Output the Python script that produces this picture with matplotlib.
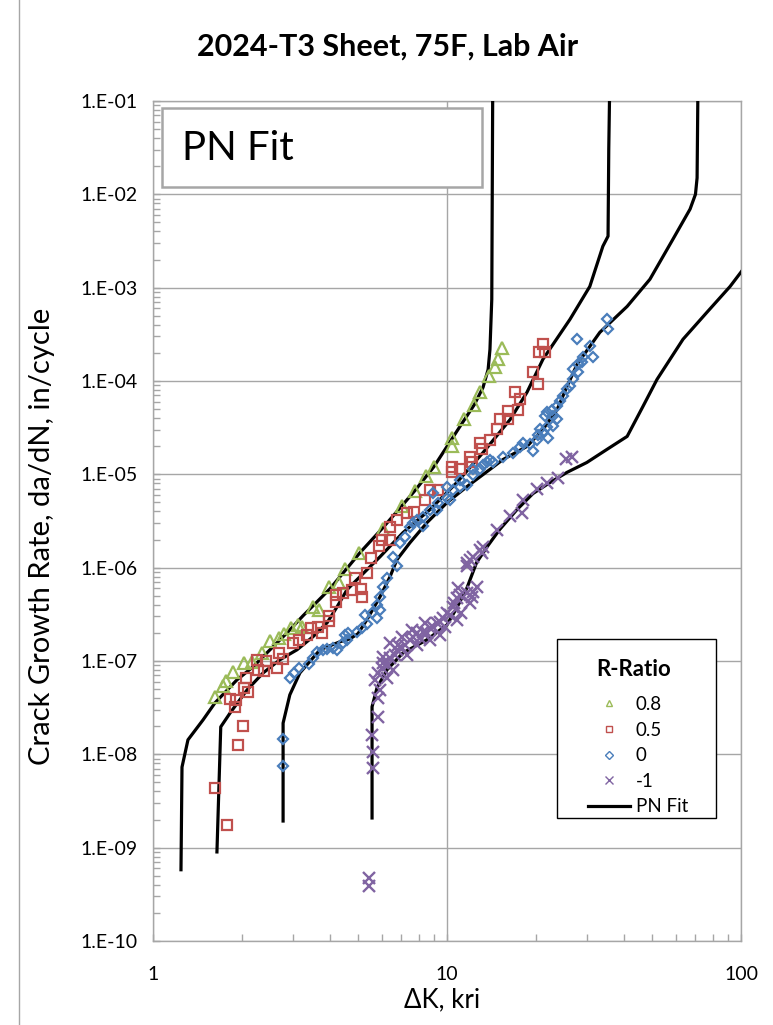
import numpy as np
import matplotlib
matplotlib.use('Agg')
import matplotlib.pyplot as plt
from matplotlib.lines import Line2D
from matplotlib.patches import Rectangle
from matplotlib.ticker import FixedLocator, FuncFormatter, LogLocator, NullFormatter

plt.rcParams['font.family'] = ['Lato', 'DejaVu Sans']

# region - data (dK in ksi*sqrt(in), da/dN in in/cycle)
r_labels = ['0.8', '0.5', '0', '-1', 'PN Fit']
y_ticks = [1e-10, 1e-9, 1e-8, 1e-7, 1e-6, 1e-5, 1e-4, 1e-3, 1e-2, 1e-1]
x_ticks = [1, 10, 100]

# PN fit curves
fit_08_dk = [1.245, 1.255, 1.315, 1.48, 1.625, 1.93, 2.19, 2.50, 2.86, 3.24, 3.56, 4.00, 4.50, 5.06, 6.06,
             7.03, 7.78, 9.03, 11.07, 12.4, 13.26, 13.8, 14.0, 14.2, 14.3]
fit_08_dadn = [5.8e-10, 7.3e-9, 1.43e-8, 2.34e-8, 3.56e-8, 6.28e-8, 8.67e-8, 1.32e-7, 2.01e-7, 3.06e-7, 4.11e-7,
               5.95e-7, 9.29e-7, 1.45e-6, 2.69e-6, 4.62e-6, 6.70e-6, 1.21e-5, 3.26e-5, 5.61e-5, 8.54e-5, 1.33e-4,
               2.18e-4, 7.5e-4, 1.0e-1]

fit_05_dk = [1.65, 1.70, 1.83, 2.09, 2.37, 2.70, 3.09, 3.50, 3.91, 4.23, 4.57, 4.94, 5.92, 7.08, 8.75, 10.8,
             13.26, 16.4, 18.7, 21.2, 26.2, 30.6, 33.9, 35.3, 35.5, 35.7]
fit_05_dadn = [9.0e-10, 1.97e-8, 2.78e-8, 4.91e-8, 7.46e-8, 1.03e-7, 1.32e-7, 1.82e-7, 2.57e-7, 3.82e-7, 5.81e-7,
               7.43e-7, 1.31e-6, 2.37e-6, 4.19e-6, 8.17e-6, 1.71e-5, 3.87e-5, 7.55e-5, 1.71e-4, 4.58e-4, 1.03e-3,
               2.78e-3, 3.56e-3, 3.06e-2, 1.0e-1]

fit_0_dk = [2.77, 2.77, 2.92, 3.16, 3.70, 4.33, 4.68, 4.98, 5.34, 5.92, 6.40, 6.76, 7.48, 8.55, 10.0, 11.7,
            14.0, 15.5, 18.7, 21.2, 23.7, 25.6, 27.7, 33.1, 41.0, 49.0, 58.7, 67.1, 70.0, 70.9, 71.3]
fit_0_dadn = [1.93e-9, 2.16e-8, 4.34e-8, 7.46e-8, 1.32e-7, 1.61e-7, 1.73e-7, 1.96e-7, 2.77e-7, 4.89e-7, 8.0e-7,
              1.22e-6, 1.85e-6, 3.04e-6, 4.98e-6, 7.4e-6, 1.13e-5, 1.44e-5, 1.99e-5, 3.03e-5, 4.95e-5, 8.75e-5,
              1.51e-4, 3.32e-4, 6.3e-4, 1.23e-3, 3.31e-3, 6.94e-3, 1.0e-2, 1.5e-2, 1.0e-1]

fit_m1_dk = [5.56, 5.56, 5.78, 6.25, 7.08, 8.55, 10.0, 10.8, 11.7, 12.6, 13.7, 15.1, 17.3, 19.6, 22.4, 25.6,
             29.9, 35.0, 41.0, 46.4, 51.8, 63.5, 76.6, 91.8, 103]
fit_m1_dadn = [2.08e-9, 3.23e-8, 5.16e-8, 8.05e-8, 1.22e-7, 1.69e-7, 2.44e-7, 3.72e-7, 6.10e-7, 1.13e-6, 1.68e-6,
               2.56e-6, 4.19e-6, 6.22e-6, 8.17e-6, 1.05e-5, 1.34e-5, 1.85e-5, 2.55e-5, 5.34e-5, 1.04e-4, 2.80e-4,
               5.45e-4, 1.03e-3, 1.66e-3]

# test data, R = 0.8
r08_dk = [1.625, 1.73, 1.77, 1.87, 2.04, 2.17, 2.35, 2.50, 2.68, 2.79, 2.95, 3.11, 3.21, 3.50, 3.67, 3.97, 4.29,
          4.50, 5.02, 6.06, 7.03, 7.78, 8.48, 9.03, 10.4, 10.4, 11.4, 12.4, 12.9, 13.9, 14.6, 14.9, 15.4]
r08_dadn = [4.13e-8, 5.42e-8, 6.13e-8, 7.66e-8, 9.56e-8, 9.8e-8, 1.22e-7, 1.65e-7, 1.78e-7, 1.96e-7, 2.27e-7,
            2.44e-7, 2.33e-7, 3.82e-7, 3.54e-7, 6.25e-7, 6.90e-7, 9.76e-7, 1.45e-6, 2.62e-6, 4.62e-6, 6.70e-6,
            9.7e-6, 1.21e-5, 2.48e-5, 1.99e-5, 3.87e-5, 5.47e-5, 7.55e-5, 1.12e-4, 1.43e-4, 1.71e-4, 2.24e-4]

# R = 0.5
r05_dk = [1.625, 1.785, 1.95, 2.02, 1.83, 1.90, 1.92, 2.04, 2.10, 2.07, 2.28, 2.39, 2.64, 2.26, 2.42, 2.77,
          2.68, 2.99, 3.14, 3.34, 3.45, 3.76, 3.64, 3.97, 3.97, 4.19, 4.19, 4.43, 4.75, 4.86, 5.14, 5.10, 5.34,
          5.51, 5.87, 6.01, 6.40, 6.40, 6.76, 7.31, 7.72, 8.42, 8.75, 9.32, 10.4, 10.4, 11.1, 12.0, 12.2, 12.9,
          13.2, 14.0, 14.8, 15.1, 16.1, 16.1, 17.4, 17.7, 17.0, 19.6, 20.4, 20.6, 21.2, 21.5]
r05_dadn = [4.36e-9, 1.75e-9, 1.26e-8, 2.02e-8, 3.93e-8, 3.23e-8, 3.83e-8, 5.16e-8, 4.67e-8, 6.60e-8, 8.05e-8,
            7.85e-8, 8.45e-8, 1.03e-7, 1.0e-7, 1.06e-7, 1.22e-7, 1.57e-7, 1.69e-7, 1.91e-7, 2.27e-7, 2.01e-7,
            2.33e-7, 2.70e-7, 3.06e-7, 4.31e-7, 5.13e-7, 5.39e-7, 5.81e-7, 7.81e-7, 4.89e-7, 5.95e-7, 8.84e-7,
            1.28e-6, 1.72e-6, 2.0e-6, 2.0e-6, 2.75e-6, 3.27e-6, 3.89e-6, 3.99e-6, 5.37e-6, 6.87e-6, 6.87e-6,
            1.07e-5, 1.21e-5, 1.13e-5, 1.55e-5, 1.37e-5, 2.19e-5, 1.85e-5, 2.36e-5, 3.03e-5, 3.87e-5, 3.87e-5,
            4.72e-5, 4.95e-5, 6.35e-5, 7.55e-5, 1.24e-4, 9.2e-5, 2.03e-4, 2.47e-4, 2.03e-4]

# R = 0
r0_dk = [2.77, 2.77, 2.92, 3.02, 3.14, 3.39, 3.50, 3.61, 3.79, 3.91, 4.10, 4.23, 4.43, 4.57, 4.50, 4.60, 4.94,
         5.14, 5.34, 5.26, 5.56, 5.78, 5.92, 5.78, 5.92, 6.06, 6.25, 6.55, 6.76, 6.92, 7.20, 7.48, 7.66, 7.91,
         8.28, 8.28, 8.75, 9.25, 9.32, 10.0, 10.2, 10.5, 11.1, 11.1, 11.7, 12.3, 12.9, 13.7, 14.0, 8.96, 10.0,
         12.3, 13.26, 14.3, 15.5, 16.8, 17.7, 18.1, 19.2, 19.6, 20.2, 20.4, 21.2, 21.9, 20.7, 22.1, 22.9, 23.7,
         22.9, 21.5, 21.9, 22.8, 23.7, 24.2, 24.8, 25.6, 26.2, 26.8, 26.8, 27.9, 27.9, 28.8, 29.0, 31.4, 30.6,
         27.7, 35.0, 35.3]
r0_dadn = [1.46e-8, 7.51e-9, 6.6e-8, 7.46e-8, 8.45e-8, 9.33e-8, 1.08e-7, 1.25e-7, 1.32e-7, 1.35e-7, 1.39e-7,
           1.32e-7, 1.57e-7, 1.69e-7, 1.91e-7, 2.01e-7, 2.06e-7, 2.27e-7, 2.51e-7, 3.13e-7, 3.29e-7, 2.91e-7,
           3.54e-7, 4.01e-7, 4.89e-7, 6.25e-7, 7.81e-7, 1.31e-6, 1.05e-6, 1.85e-6, 2.15e-6, 2.75e-6, 3.04e-6,
           3.27e-6, 2.82e-6, 3.53e-6, 4.19e-6, 4.19e-6, 4.98e-6, 5.64e-6, 5.37e-6, 6.87e-6, 7.4e-6, 8.79e-6,
           7.77e-6, 9.95e-6, 1.13e-5, 1.34e-5, 1.44e-5, 6.38e-6, 7.4e-6, 1.13e-5, 1.27e-5, 1.37e-5, 1.55e-5,
           1.71e-5, 1.94e-5, 2.19e-5, 2.09e-5, 1.76e-5, 2.36e-5, 2.67e-5, 2.81e-5, 3.18e-5, 3.03e-5, 2.48e-5,
           3.26e-5, 3.87e-5, 4.17e-5, 4.17e-5, 4.60e-5, 4.95e-5, 5.34e-5, 6.04e-5, 6.84e-5, 8.13e-5, 8.75e-5,
           1.04e-4, 1.33e-4, 1.51e-4, 1.24e-4, 1.58e-4, 1.79e-4, 1.79e-4, 2.35e-4, 2.80e-4, 4.58e-4, 3.58e-4]

# R = -1
rm1_dk = [5.43, 5.43, 5.56, 5.60, 5.60, 5.82, 5.82, 5.69, 5.82, 6.01, 6.06, 6.30, 6.40, 6.65, 6.76, 7.03, 7.20,
          6.81, 7.48, 7.66, 7.91, 8.09, 8.28, 8.55, 8.75, 8.96, 9.25, 9.47, 9.69, 9.84, 10.0, 10.2, 10.5, 10.6,
          10.8, 11.1, 11.7, 12.2, 12.3, 6.25, 5.92, 6.55, 7.31, 7.91, 8.75, 9.47, 10.8, 11.2, 8.42, 7.60, 7.03,
          6.40, 6.06, 12.0, 12.6, 10.9, 11.7, 12.0, 12.3, 12.9, 13.3, 11.7, 13.2, 14.8, 16.4, 18.0, 18.1, 20.2,
          21.9, 23.9, 25.4, 26.6]
rm1_dadn = [4.72e-10, 3.87e-10, 1.62e-8, 1.06e-8, 7.15e-9, 4.03e-8, 2.52e-8, 6.28e-8, 7.46e-8, 8.45e-8, 9.56e-8,
            9.1e-8, 1.08e-7, 1.17e-7, 1.32e-7, 1.39e-7, 1.49e-7, 1.49e-7, 1.69e-7, 1.82e-7, 2.01e-7, 1.78e-7,
            2.06e-7, 2.01e-7, 2.27e-7, 2.33e-7, 2.57e-7, 2.63e-7, 2.91e-7, 2.33e-7, 3.29e-7, 3.13e-7, 3.82e-7,
            4.21e-7, 4.77e-7, 5.13e-7, 5.39e-7, 4.89e-7, 5.53e-7, 6.6e-8, 4.91e-8, 8.05e-8, 1.17e-7, 1.49e-7,
            1.69e-7, 1.91e-7, 2.77e-7, 3.29e-7, 2.57e-7, 2.16e-7, 1.82e-7, 1.57e-7, 1.11e-7, 4.21e-7, 6.25e-7,
            6.10e-7, 1.13e-6, 1.22e-6, 1.31e-6, 1.56e-6, 1.68e-6, 1.03e-6, 1.45e-6, 2.56e-6, 3.62e-6, 3.89e-6,
            5.37e-6, 7.04e-6, 8.17e-6, 9.24e-6, 1.47e-5, 1.55e-5]
# endregion

green, red, blue, purple = '#9BBB59', '#C0504D', '#4A7EBB', '#8064A2'
grid_c = '#A6A6A6'

W, H = 773, 1025
fig = plt.figure(figsize=(W / 100, H / 100), dpi=100)
ax = fig.add_axes([153 / W, 1 - 941 / H, (741 - 153) / W, (941 - 101) / H])

for dk, da in [(fit_08_dk, fit_08_dadn), (fit_05_dk, fit_05_dadn), (fit_0_dk, fit_0_dadn), (fit_m1_dk, fit_m1_dadn)]:
    ax.plot(dk, da, color='black', lw=2.3, zorder=3, solid_joinstyle='round')

ax.plot(r08_dk, r08_dadn, ls='none', marker='^', ms=9, mfc='none', mec=green, mew=1.6, zorder=4)
ax.plot(r05_dk, r05_dadn, ls='none', marker='s', ms=6.5, mfc='none', mec=red, mew=1.6, zorder=4)
ax.plot(r0_dk, r0_dadn, ls='none', marker='D', ms=5.5, mfc='none', mec=blue, mew=1.6, zorder=4)
ax.plot(rm1_dk, rm1_dadn, ls='none', marker='x', ms=8, mec=purple, mew=1.7, zorder=4)

ax.set_xscale('log')
ax.set_yscale('log')
ax.set_xlim(1, 100)
ax.set_ylim(1e-10, 1e-1)
ax.xaxis.set_major_locator(FixedLocator(x_ticks))
ax.xaxis.set_major_formatter(FuncFormatter(lambda v, p: '%g' % v))
ax.yaxis.set_major_locator(FixedLocator(y_ticks))
ax.yaxis.set_major_formatter(FuncFormatter(lambda v, p: '1.E%+03d' % round(np.log10(v))))
for a in (ax.xaxis, ax.yaxis):
    a.set_minor_locator(LogLocator(base=10, subs=np.arange(2, 10), numticks=30))
    a.set_minor_formatter(NullFormatter())
ax.grid(True, which='major', color=grid_c, lw=1.0)
ax.set_axisbelow(True)
for s in ax.spines.values():
    s.set_color(grid_c)
    s.set_linewidth(1.0)
ax.tick_params(which='both', direction='in', color=grid_c, length=5, width=1)
ax.tick_params(axis='y', which='major', labelsize=14, pad=11)
ax.tick_params(axis='x', which='major', labelsize=14, pad=18)

fig.text(42 / W, 1 - 536 / H, 'Crack Growth Rate, da/dN, in/cycle', rotation=90, ha='center', va='center', fontsize=21)
fig.text(442 / W, 1 - 1000 / H, 'ΔK, kri', ha='center', va='center', fontsize=18.5)
fig.text(388 / W, 1 - 47 / H, '2024-T3 Sheet, 75F, Lab Air', ha='center', va='center', fontsize=22, weight='bold')

# chart border on the left
fig.add_artist(Line2D([19 / W, 19 / W], [0, 1], transform=fig.transFigure, color=grid_c, lw=1))

# "PN Fit" text box
fig.patches.append(Rectangle((162 / W, 1 - 187 / H), (482 - 162) / W, (187 - 108) / H, transform=fig.transFigure,
                             fc='white', ec=grid_c, lw=1.8, zorder=2))
fig.text(182 / W, 1 - 148 / H, 'PN Fit', fontsize=29, ha='left', va='center', zorder=3)

# legend, frame and title drawn separately to get Excel's spacing
fig.patches.append(Rectangle((557 / W, 1 - 818 / H), (716 - 557) / W, (818 - 639) / H, transform=fig.transFigure,
                             fc='white', ec='black', lw=1.0, zorder=4))
fig.text(634 / W, 1 - 670 / H, 'R-Ratio', ha='center', va='center', fontsize=16, weight='bold', zorder=6)
handles = [Line2D([], [], ls='none', marker='^', ms=5, mfc='none', mec=green, mew=1),
           Line2D([], [], ls='none', marker='s', ms=4.2, mfc='none', mec=red, mew=1),
           Line2D([], [], ls='none', marker='D', ms=3.8, mfc='none', mec=blue, mew=1),
           Line2D([], [], ls='none', marker='x', ms=5.5, mec=purple, mew=1),
           Line2D([], [], color='black', lw=2.3)]
leg = fig.legend(handles, r_labels, loc='upper left', bbox_to_anchor=(588 / W, 1 - 696 / H),
                 bbox_transform=fig.transFigure, frameon=False, fontsize=13.5, handlelength=2.25,
                 handletextpad=0.3, labelspacing=0.46, borderpad=0, borderaxespad=0)
leg.set_zorder(5)

fig.savefig('out.png', dpi=100)
